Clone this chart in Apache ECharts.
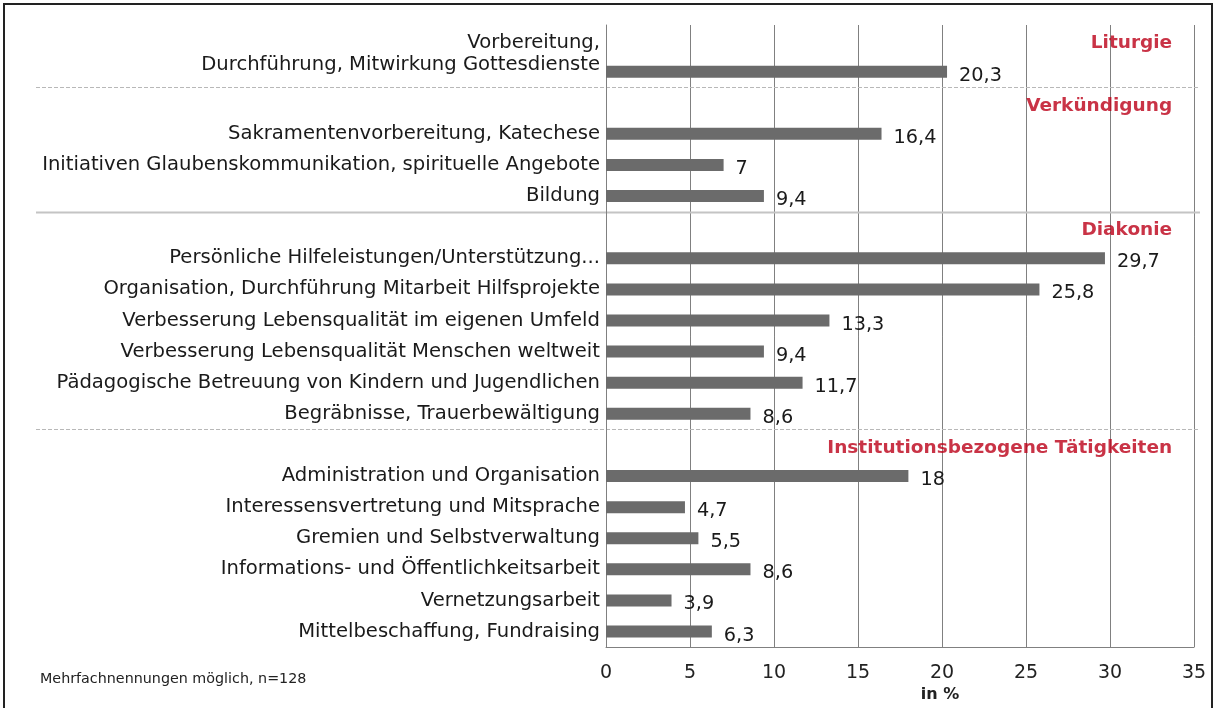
<!DOCTYPE html>
<html>
<head>
	<meta charset="utf-8">
	<title>Tätigkeiten</title>
	<script type="text/javascript" src="https://cdn.jsdelivr.net/npm/echarts@6/dist/echarts.min.js"></script>
	<style>
		body { margin: 0; background: #fff; }
		#mychar { width: 1217px; height: 708px; }
	</style>
</head>
<body>
	<div id="mychar"></div>

	<script type="text/javascript">
		// Bereiche (rote Überschriften) und ihre Tätigkeiten, Werte in %
		var sections = ['Liturgie', 'Verkündigung', 'Diakonie', 'Institutionsbezogene Tätigkeiten'];

		var liturgieLabels = ['Vorbereitung,\nDurchführung, Mitwirkung Gottesdienste'];
		var liturgieValues = [20.3];

		var verkuendigungLabels = ['Sakramentenvorbereitung, Katechese',
			'Initiativen Glaubenskommunikation, spirituelle Angebote', 'Bildung'];
		var verkuendigungValues = [16.4, 7, 9.4];

		var diakonieLabels = ['Persönliche Hilfeleistungen/Unterstützung...',
			'Organisation, Durchführung Mitarbeit Hilfsprojekte',
			'Verbesserung Lebensqualität im eigenen Umfeld',
			'Verbesserung Lebensqualität Menschen weltweit',
			'Pädagogische Betreuung von Kindern und Jugendlichen',
			'Begräbnisse, Trauerbewältigung'];
		var diakonieValues = [29.7, 25.8, 13.3, 9.4, 11.7, 8.6];

		var institutionLabels = ['Administration und Organisation',
			'Interessensvertretung und Mitsprache', 'Gremien und Selbstverwaltung',
			'Informations- und Öffentlichkeitsarbeit', 'Vernetzungsarbeit',
			'Mittelbeschaffung, Fundraising'];
		var institutionValues = [18, 4.7, 5.5, 8.6, 3.9, 6.3];

		var xTicks = [0, 5, 10, 15, 20, 25, 30, 35];

		// ein leerer Platz pro Bereich für die Überschrift
		var groups = [
			[liturgieLabels, liturgieValues],
			[verkuendigungLabels, verkuendigungValues],
			[diakonieLabels, diakonieValues],
			[institutionLabels, institutionValues]
		];
		var categories = [], values = [], headers = [];
		groups.forEach(function (g, i) {
			categories.push(sections[i]);
			values.push('-');
			headers.push({ name: sections[i], value: [33.7, sections[i]] });
			g[0].forEach(function (lab, j) {
				categories.push(lab);
				values.push(g[1][j]);
			});
		});

		var font = 'DejaVu Sans';
		var mychar = echarts.init(document.getElementById('mychar'));
		var option = {
			backgroundColor: '#fff',
			animation: false,
			title: {
				text: 'Mehrfachnennungen möglich, n=128',
				left: 35,
				top: 667,
				textStyle: { fontFamily: font, fontSize: 14.3, fontWeight: 'normal', color: '#222' }
			},
			grid: { left: 606, right: 23, top: 25, bottom: 60 },
			xAxis: {
				type: 'value',
				min: xTicks[0],
				max: xTicks[xTicks.length - 1],
				interval: 5,
				name: 'in %',
				nameLocation: 'middle',
				nameGap: 39,
				nameTextStyle: { fontFamily: font, fontSize: 16, fontWeight: 'bold', color: '#222', padding: [0, 0, 0, 80] },
				axisLine: { show: true, lineStyle: { color: '#808080' } },
				axisTick: { show: false },
				axisLabel: { fontFamily: font, fontSize: 19, color: '#222', margin: 16 },
				splitLine: { show: true, lineStyle: { color: '#808080', width: 1 } }
			},
			yAxis: {
				type: 'category',
				inverse: true,
				data: categories,
				axisLine: { show: true, lineStyle: { color: '#808080' } },
				axisTick: { show: false },
				axisLabel: {
					fontFamily: font, fontSize: 19.6, color: '#1a1a1a', margin: 6,
					formatter: function (v) {
						if (sections.indexOf(v) >= 0) return '';
						if (v.indexOf('\n') >= 0) {
							return v.split('\n').map(function (l) { return '{t|' + l + '}'; }).join('\n') + '\n{sp| }';
						}
						return v;
					},
					rich: {
						t: { fontFamily: font, fontSize: 19.6, color: '#1a1a1a', lineHeight: 22 },
						sp: { fontSize: 1, lineHeight: 36 }
					}
				}
			},
			series: [
				{
					type: 'bar',
					data: values,
					barWidth: 12,
					itemStyle: { color: '#6b6b6b' },
					label: {
						show: true,
						position: 'right',
						distance: 12,
						offset: [0, 4],
						fontFamily: font,
						fontSize: 19.3,
						color: '#1a1a1a',
						formatter: function (p) { return String(p.value).replace('.', ','); }
					}
				},
				{
					type: 'scatter',
					data: headers,
					symbolSize: 0,
					label: {
						show: true,
						position: 'left',
						distance: 0,
						offset: [0, 3],
						fontFamily: font,
						fontSize: 18.5,
						fontWeight: 'bold',
						color: '#bb0018',
						formatter: function (p) { return p.name; }
					}
				}
			]
		};
		mychar.setOption(option);

		// Trennlinien zwischen den Bereichen, aus der Achse berechnet
		var graphics = [{
			type: 'rect',
			shape: { x: 4, y: 4, width: 1208, height: 720 },
			style: { fill: null, stroke: '#222', lineWidth: 2 },
			silent: true
		}];
		for (var i = 1; i < sections.length; i++) {
			var idx = categories.indexOf(sections[i]);
			var y1 = mychar.convertToPixel({ yAxisIndex: 0 }, categories[idx - 1]);
			var y2 = mychar.convertToPixel({ yAxisIndex: 0 }, categories[idx]);
			var y = Math.round((y1 + y2) / 2) + 0.5;
			graphics.push({
				type: 'line',
				shape: { x1: 36, y1: y, x2: 1200, y2: y },
				style: { stroke: i === 2 ? '#c4c4c4' : '#b8b8b8', lineWidth: i === 2 ? 2 : 1, lineDash: i === 2 ? null : [4, 2] },
				silent: true
			});
		}
		mychar.setOption({ graphic: graphics });
	</script>
</body>
</html>
